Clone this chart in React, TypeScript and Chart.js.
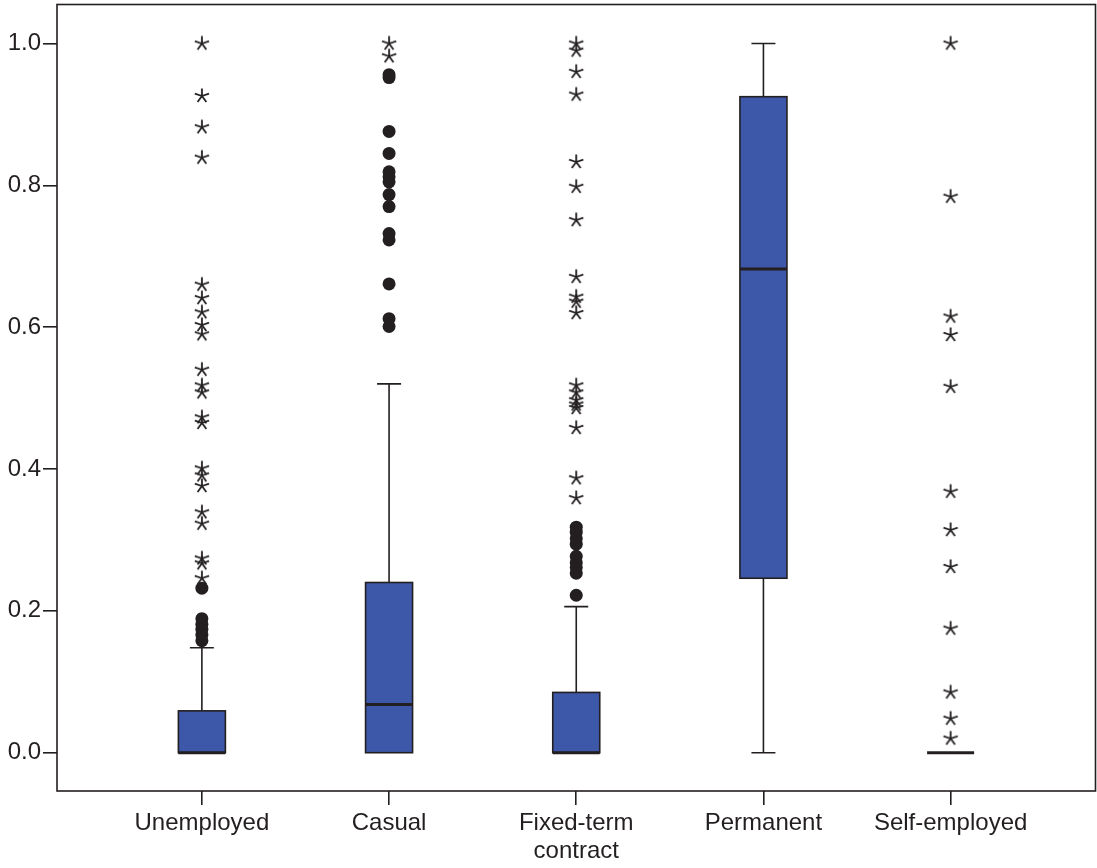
import React, { useEffect, useRef } from 'react';
import { Chart, registerables } from 'chart.js';
Chart.register(...registerables);

const categories: (string | string[])[] = ['Unemployed', 'Casual', ['Fixed-term', 'contract'], 'Permanent', 'Self-employed'];
const q1 = [0, 0, 0, 0.246, 0];
const median = [0, 0.068, 0, 0.682, 0];
const q3 = [0.059, 0.24, 0.085, 0.925, 0];
const whiskerLow = [0, 0, 0, 0, 0];
const whiskerHigh = [0.148, 0.52, 0.206, 1.0, 0];
const outlierCircles: number[][] = [
  [0.232, 0.189, 0.181, 0.174, 0.166, 0.158],
  [0.956, 0.952, 0.876, 0.845, 0.819, 0.812, 0.805, 0.787, 0.77, 0.732, 0.723, 0.661, 0.612, 0.601],
  [0.318, 0.311, 0.302, 0.294, 0.277, 0.268, 0.261, 0.253, 0.222],
  [],
  [],
];
const extremeStars: number[][] = [
  [1.0, 0.926, 0.882, 0.839, 0.66, 0.641, 0.621, 0.603, 0.59, 0.54, 0.518, 0.508, 0.473, 0.465, 0.401, 0.391, 0.376, 0.339, 0.323, 0.274, 0.267, 0.246],
  [1.0, 0.982],
  [1.0, 0.99, 0.96, 0.928, 0.833, 0.798, 0.751, 0.671, 0.643, 0.636, 0.62, 0.518, 0.508, 0.497, 0.491, 0.486, 0.458, 0.387, 0.359],
  [],
  [1.0, 0.784, 0.615, 0.589, 0.516, 0.368, 0.314, 0.262, 0.175, 0.085, 0.048, 0.02],
];
const yTicks = [0, 0.2, 0.4, 0.6, 0.8, 1.0];

const INK = '#231f20';
const BOX_FILL = '#3d58a8';
const FONT = "'Liberation Sans', Arial, sans-serif";

function makeStar(): HTMLCanvasElement {
  const c = document.createElement('canvas');
  c.width = 18;
  c.height = 18;
  const g = c.getContext('2d')!;
  g.strokeStyle = INK;
  g.lineWidth = 1.8;
  g.beginPath();
  for (let k = 0; k < 5; k++) {
    const a = -Math.PI / 2 + (k * 2 * Math.PI) / 5;
    g.moveTo(9, 9);
    g.lineTo(9 + 7.5 * Math.cos(a), 9 + 7.5 * Math.sin(a));
  }
  g.stroke();
  return c;
}

const boxPlugin = {
  id: 'boxes',
  beforeDatasetsDraw(chart: any) {
    const ctx = chart.ctx;
    const xs = chart.scales.x;
    const ys = chart.scales.y;
    const half = 23.5;
    const capHalf = 12;
    ctx.save();
    ctx.strokeStyle = INK;
    for (let i = 0; i < categories.length; i++) {
      const cx = xs.getPixelForValue(i);
      const yq1 = ys.getPixelForValue(q1[i]);
      const yq3 = ys.getPixelForValue(q3[i]);
      const ylo = ys.getPixelForValue(whiskerLow[i]);
      const yhi = ys.getPixelForValue(whiskerHigh[i]);
      const ymed = ys.getPixelForValue(median[i]);
      ctx.lineWidth = 1.6;
      if (whiskerHigh[i] > q3[i]) {
        ctx.beginPath();
        ctx.moveTo(cx, yq3);
        ctx.lineTo(cx, yhi);
        ctx.moveTo(cx - capHalf, yhi);
        ctx.lineTo(cx + capHalf, yhi);
        ctx.stroke();
      }
      if (whiskerLow[i] < q1[i]) {
        ctx.beginPath();
        ctx.moveTo(cx, yq1);
        ctx.lineTo(cx, ylo);
        ctx.moveTo(cx - capHalf, ylo);
        ctx.lineTo(cx + capHalf, ylo);
        ctx.stroke();
      }
      if (q3[i] > q1[i]) {
        ctx.fillStyle = BOX_FILL;
        ctx.fillRect(cx - half, yq3, half * 2, yq1 - yq3);
        ctx.strokeRect(cx - half, yq3, half * 2, yq1 - yq3);
      }
      ctx.lineWidth = 3;
      ctx.beginPath();
      ctx.moveTo(cx - half, ymed);
      ctx.lineTo(cx + half, ymed);
      ctx.stroke();
    }
    ctx.restore();
  },
  afterDraw(chart: any) {
    const { left, top, right, bottom } = chart.chartArea;
    const ctx = chart.ctx;
    ctx.save();
    ctx.strokeStyle = INK;
    ctx.lineWidth = 1.6;
    ctx.strokeRect(left, top, right - left, bottom - top);
    ctx.restore();
  },
};

export default function App() {
  const ref = useRef<HTMLCanvasElement>(null);
  useEffect(() => {
    const star = makeStar();
    const circlePts: { x: number; y: number }[] = [];
    const starPts: { x: number; y: number }[] = [];
    outlierCircles.forEach((arr, i) => arr.forEach((v) => circlePts.push({ x: i, y: v })));
    extremeStars.forEach((arr, i) => arr.forEach((v) => starPts.push({ x: i, y: v })));
    const chart = new Chart(ref.current!, {
      type: 'scatter',
      data: {
        datasets: [
          {
            data: circlePts,
            pointStyle: 'circle',
            pointRadius: 6.5,
            backgroundColor: INK,
            borderWidth: 0,
          },
          {
            data: starPts,
            pointStyle: star as any,
            pointRadius: 9,
          },
        ],
      },
      options: {
        animation: false,
        responsive: false,
        devicePixelRatio: 1,
        layout: { autoPadding: false, padding: { top: 4.5, right: 1.5, left: 0, bottom: 0 } },
        plugins: { legend: { display: false }, tooltip: { enabled: false } },
        scales: {
          x: {
            type: 'linear',
            min: -0.774,
            max: 4.774,
            afterBuildTicks: (s: any) => {
              s.ticks = categories.map((_, i) => ({ value: i }));
            },
            afterFit: (s: any) => {
              s.height = 77;
              s.paddingLeft = 0;
              s.paddingRight = 0;
            },
            ticks: {
              autoSkip: false,
              maxRotation: 0,
              padding: 5,
              color: INK,
              font: { family: FONT, size: 24, lineHeight: 1.15 },
              callback: (v: any) => categories[Math.round(v)] as any,
            },
            grid: { drawOnChartArea: false, drawTicks: true, tickLength: 14, color: INK, lineWidth: 1.6 },
            border: { display: false },
          },
          y: {
            type: 'linear',
            min: -0.054,
            max: 1.055,
            afterBuildTicks: (s: any) => {
              s.ticks = yTicks.map((v) => ({ value: v }));
            },
            afterFit: (s: any) => {
              s.width = 57;
              s.paddingTop = 0;
              s.paddingBottom = 0;
            },
            ticks: {
              padding: 2,
              color: INK,
              font: { family: FONT, size: 24 },
              callback: (v: any) => Number(v).toFixed(1),
            },
            grid: { drawOnChartArea: false, drawTicks: true, tickLength: 14, color: INK, lineWidth: 1.6 },
            border: { display: false },
          },
        },
      },
      plugins: [boxPlugin],
    });
    return () => chart.destroy();
  }, []);
  return (
    <div style={{ position: 'absolute', left: 0, top: 0, width: 1097, height: 868, background: '#fff' }}>
      <canvas ref={ref} width={1097} height={868} />
    </div>
  );
}
